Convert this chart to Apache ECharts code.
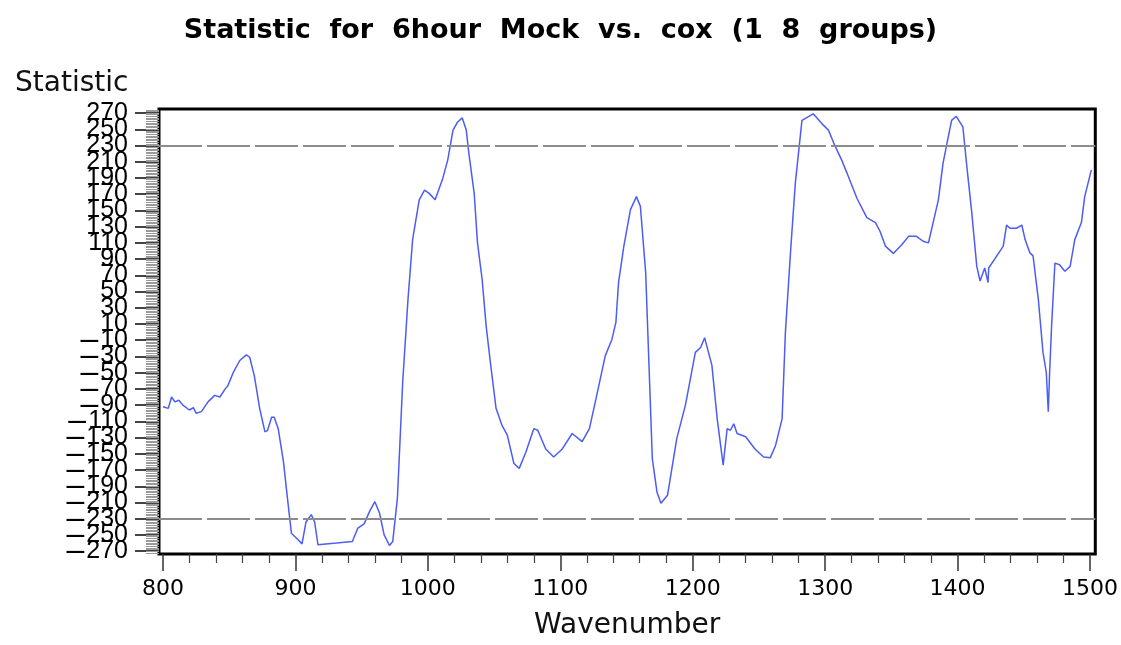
<!DOCTYPE html>
<html>
<head>
<meta charset="utf-8">
<script src="https://cdn.jsdelivr.net/npm/echarts@6/dist/echarts.min.js"></script>
<style>
  html, body { margin: 0; padding: 0; background: #fff; }
  #chart { width: 1121px; height: 645px; }
</style>
</head>
<body>
<div id="chart"></div>
<script>
// Statistic profile over the wavenumber range
const wavenumber = [
  800, 804, 806.5, 809, 812, 815, 820, 823, 825, 829, 834, 839, 843, 847, 849, 853, 858, 863, 865.5, 869,
  873, 877, 879, 882, 884, 887, 891, 894, 897, 899.5, 902, 905, 908, 912, 914.5, 917, 931, 943, 947, 952,
  956, 960, 963.5, 967, 971, 973.5, 977, 981, 985, 988.5, 993.5, 997.5, 1001, 1005.5, 1011, 1015, 1019, 1022.5, 1026, 1029,
  1031, 1035, 1037.5, 1041, 1044, 1047.5, 1051.5, 1056, 1060, 1065, 1069, 1074, 1080, 1083, 1089, 1095, 1101.5, 1109, 1116.5, 1122,
  1127, 1134, 1139, 1142, 1144, 1148, 1153, 1157.5, 1160.5, 1164.5, 1167, 1169.5, 1173, 1176, 1181, 1188, 1194.5, 1202, 1206, 1209,
  1214.5, 1218.5, 1223, 1226, 1228.5, 1231, 1233.5, 1240, 1247, 1253.5, 1258.5, 1262.5, 1267.5, 1270, 1274, 1277.5, 1282.5, 1291, 1297.5, 1302.5,
  1306.5, 1312.5, 1316.5, 1324, 1331.5, 1338, 1341.5, 1345.5, 1351.5, 1358, 1363, 1369, 1374, 1378, 1385.5, 1389, 1393, 1395.5, 1399, 1404,
  1407, 1410.5, 1414.5, 1417, 1420.5, 1423, 1423.5, 1428, 1434.5, 1437, 1439.5, 1444.5, 1448.5, 1451, 1454.5, 1457, 1461, 1464.5, 1467, 1468.5,
  1469.5, 1471, 1473.5, 1477, 1481, 1485, 1488.5, 1493.5, 1496, 1501
];
const statistic = [
  -92, -94, -80, -86, -84, -90, -96, -93, -100, -98, -86, -78, -80, -70, -66, -50, -35, -28, -31, -54,
  -94, -123, -121, -105, -105, -119, -160, -205, -248, -252, -256, -261, -234, -225, -234, -262, -260, -258, -242, -236,
  -221, -209, -223, -250, -263, -258, -205, -62, 40, 114, 163, 175, 171, 163, 188, 212, 249, 259, 264, 249,
  220, 171, 110, 65, 8, -41, -94, -115, -127, -162, -168, -148, -119, -121, -144, -154, -144, -125, -135, -119,
  -82, -29, -9, 12, 61, 106, 151, 167, 155, 73, -41, -156, -197, -211, -201, -131, -90, -25, -19, -7,
  -41, -107, -164, -119, -121, -113, -125, -129, -144, -154, -155, -140, -107, 0, 102, 184, 261, 269, 257, 249,
  233, 212, 196, 165, 141, 135, 124, 106, 97, 108, 118, 118, 112, 110, 163, 208, 241, 261, 266, 253,
  204, 151, 81, 63, 79, 61, 79, 90, 106, 132, 128, 128, 132, 114, 98, 94, 40, -25, -50, -98,
  -50, 8, 85, 83, 75, 81, 114, 135, 167, 200
];

// Axis labels and reference levels
const xTickLabels = [800, 900, 1000, 1100, 1200, 1300, 1400, 1500];
const xMinorTicks = [820, 840, 860, 880, 920, 940, 960, 980, 1020, 1040, 1060, 1080, 1120, 1140, 1160, 1180,
  1220, 1240, 1260, 1280, 1320, 1340, 1360, 1380, 1420, 1440, 1460, 1480];
const yTickLabels = [-270, -250, -230, -210, -190, -170, -150, -130, -110, -90, -70, -50, -30, -10,
  10, 30, 50, 70, 90, 110, 130, 150, 170, 190, 210, 230, 250, 270];
const thresholds = [230, -230];

const titleText = 'Statistic  for  6hour  Mock  vs.  cox  (1  8  groups)';
const yName = 'Statistic';
const xName = 'Wavenumber';

// the tightly packed vertical labels are split over two stacked axes so
// none of them gets dropped for touching its neighbour
const yLabelsA = yTickLabels.filter((_, i) => i % 2 === 0);
const yLabelsB = yTickLabels.filter((_, i) => i % 2 === 1);

// fine tick marks every 2 units along the vertical axis
const yFineTicks = [];
for (let v = -272; v <= 274; v += 2) yFineTicks.push(v);

const X_MIN = 797, X_MAX = 1504, Y_MIN = -273.5, Y_MAX = 275;

const yLabelStyle = (values) => ({
  show: true, customValues: values, margin: 31, hideOverlap: false,
  formatter: function (v) {
    return v < 0 ? '{m|\u2013}{n|' + Math.abs(v) + '}' : '{n|' + v + '}';
  },
  rich: {
    n: { fontFamily: 'Liberation Sans', fontSize: 25, color: '#000' },
    m: { fontFamily: 'Liberation Sans', fontSize: 32, color: '#000', padding: [0, 2, 0, 0] }
  }
});

const chart = echarts.init(document.getElementById('chart'), null, { renderer: 'canvas' });

chart.setOption({
  backgroundColor: '#ffffff',
  animation: false,
  title: [
    {
      text: titleText,
      left: 'center',
      top: 12,
      textStyle: { fontFamily: 'DejaVu Sans', fontWeight: 'bold', fontSize: 27, color: '#000' }
    },
    {
      text: yName,
      left: 10,
      top: 65,
      textStyle: { fontFamily: 'DejaVu Sans', fontWeight: 'normal', fontSize: 28, color: '#111' }
    }
  ],
  grid: {
    left: 159, right: 23, top: 109, bottom: 89,
    show: true, borderColor: '#000', borderWidth: 3, backgroundColor: 'transparent'
  },
  xAxis: [
    {
      type: 'value', min: X_MIN, max: X_MAX, position: 'bottom',
      name: xName, nameLocation: 'middle', nameGap: 58,
      nameTextStyle: { fontFamily: 'DejaVu Sans', fontSize: 28, color: '#111' },
      axisLine: { show: false, onZero: false },
      splitLine: { show: false },
      axisTick: { show: true, length: 17, customValues: xTickLabels, lineStyle: { color: '#333', width: 1.5 } },
      axisLabel: {
        show: true, customValues: xTickLabels, margin: 24, hideOverlap: false,
        showMinLabel: true, showMaxLabel: true,
        formatter: v => String(v),
        fontFamily: 'DejaVu Sans', fontSize: 22, color: '#000'
      }
    },
    {
      type: 'value', min: X_MIN, max: X_MAX, position: 'bottom',
      axisLine: { show: false, onZero: false }, splitLine: { show: false },
      axisLabel: { show: false },
      axisTick: { show: true, length: 9, customValues: xMinorTicks, lineStyle: { color: '#444', width: 1.2 } }
    }
  ],
  yAxis: [
    {
      type: 'value', min: Y_MIN, max: Y_MAX, position: 'left',
      axisLine: { show: false, onZero: false },
      splitLine: { show: false },
      axisTick: { show: true, length: 24, customValues: yTickLabels, lineStyle: { color: '#444', width: 2 } },
      axisLabel: yLabelStyle(yLabelsA)
    },
    {
      type: 'value', min: Y_MIN, max: Y_MAX, position: 'left',
      axisLine: { show: false, onZero: false }, splitLine: { show: false },
      axisTick: { show: false },
      axisLabel: yLabelStyle(yLabelsB)
    },
    {
      type: 'value', min: Y_MIN, max: Y_MAX, position: 'left',
      axisLine: { show: false, onZero: false }, splitLine: { show: false },
      axisLabel: { show: false },
      axisTick: { show: true, length: 13, customValues: yFineTicks, lineStyle: { color: '#9a9a9a', width: 1 } }
    }
  ],
  series: [
    {
      type: 'line',
      xAxisIndex: 0, yAxisIndex: 0,
      data: wavenumber.map((w, i) => [w, statistic[i]]),
      showSymbol: false,
      smooth: false,
      lineStyle: { color: '#4d5cf5', width: 1.5 },
      markLine: {
        silent: true,
        symbol: ['none', 'none'],
        label: { show: false },
        lineStyle: { color: '#8c8c8c', width: 2, type: [43, 5] },
        data: thresholds.map(t => ({ yAxis: t }))
      }
    }
  ]
});
</script>
</body>
</html>
